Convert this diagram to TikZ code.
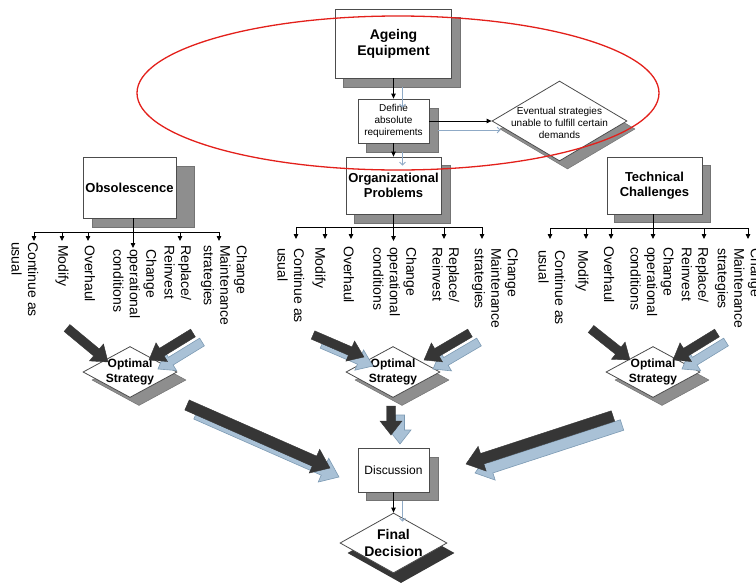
\documentclass[tikz,border=0pt]{standalone}
\usepackage{fontspec}
\setmainfont{Liberation Sans}
\usetikzlibrary{arrows.meta,shapes.geometric,calc}

\definecolor{fatdark}{HTML}{363636}
\definecolor{fatblue}{HTML}{A9C1D6}
\definecolor{fatblueedge}{HTML}{7C9AB3}
\definecolor{linkblue}{HTML}{8FAAC6}
\definecolor{shade}{HTML}{8E8E8E}
\definecolor{ring}{HTML}{E3201B}

\tikzset{
  box/.style={draw=black!70, fill=white, line width=0.8pt, align=center, inner sep=0pt},
  boxshadow/.style={fill=shade, draw=black!55, line width=0.5pt},
  dia/.style={diamond, draw=black!70, fill=white, line width=0.8pt, inner sep=0pt},
  diashadow/.style={diamond, fill=shade, draw=black!55, line width=0.5pt, inner sep=0pt},
  optdia/.style={dia, minimum width=94pt, minimum height=51pt},
  optshadow/.style={diashadow, minimum width=94pt, minimum height=51pt},
  opttext/.style={align=center, inner sep=0pt, font=\bfseries\fontsize{12}{14.5}\selectfont},
  link/.style={draw=black, line width=0.8pt, -{Triangle[length=5pt,width=4.5pt]}},
  bus/.style={draw=black, line width=0.8pt},
  linkshadow/.style={draw=linkblue, line width=0.8pt, -{Straight Barb[length=3pt,width=6pt]}},
  choice/.style={rotate=-90, anchor=west, align=left, inner sep=0pt,
    font=\fontsize{14}{16.5}\selectfont},
  fatbody/.style={fill=fatdark, draw=fatdark, line width=0.4pt, line join=miter},
  fatshadow/.style={fill=fatblue, draw=fatblueedge, line width=0.6pt, line join=miter},
}

% broad block arrow from #2 to tip #3: shaft half-width #4, head half-width #5, head length #6
\newcommand\fatpoly[6]{%
  \coordinate (fahead) at ($(#3)!#6!(#2)$);
  \path[#1] ($(#2)!#4!90:(#3)$) -- ($(fahead)!#4!90:(#3)$) -- ($(fahead)!#5!90:(#3)$)
    -- (#3) -- ($(fahead)!#5!-90:(#3)$) -- ($(fahead)!#4!-90:(#3)$)
    -- ($(#2)!#4!-90:(#3)$) -- cycle;
}
% block arrow with its pale blue shadow copy behind it
\newcommand\fatpair[5]{%
  \coordinate (fabs) at ($(#1)+(9,9)$);
  \coordinate (fabt) at ($(#2)+(9,9)$);
  \fatpoly{fatshadow}{fabs}{fabt}{#3}{#4}{#5}
  \fatpoly{fatbody}{#1}{#2}{#3}{#4}{#5}
}
\newcommand\choice[4]{\node[choice] (#1) at (#2,#3) {#4};}

\begin{document}
\begin{tikzpicture}[x=1pt,y=-1pt]
\useasboundingbox (0,0) rectangle (756,582);
\clip (0,0) rectangle (756,582);

% ---- box shadows ----
\path[boxshadow] (343,17) rectangle (460,87);
\path[boxshadow] (366,108) rectangle (438,152);
\path[boxshadow] (354,165) rectangle (450,223);
\path[boxshadow] (92,166) rectangle (194,227);
\path[boxshadow] (614,165) rectangle (710,222);
\path[boxshadow] (366,457) rectangle (438,500);

% ---- top part ----
\node[box, minimum width=116pt, minimum height=69pt,
      font=\bfseries\fontsize{14}{16}\selectfont] (ageing) at (393.5,43.5) {Ageing\\Equipment};
\node[box, minimum width=71pt, minimum height=44pt,
      font=\fontsize{10}{12}\selectfont] (define) at (393.5,121) {Define\\absolute\\requirements};
\node[diashadow, minimum width=135pt, minimum height=80pt] (evtshadow) at (567.5,129) {};
\node[dia, minimum width=135pt, minimum height=80pt] (evt) at (559.5,121) {};
\node[align=center, inner sep=0pt, font=\fontsize{10}{12}\selectfont] (evttext) at (559.5,123)
  {Eventual strategies\\unable to fulfill certain\\demands};

% ---- three problem boxes ----
\node[box, minimum width=93pt, minimum height=61pt,
      font=\bfseries\fontsize{13}{15.5}\selectfont] (obs) at (129.5,187.5) {Obsolescence};
\node[box, minimum width=95pt, minimum height=57pt,
      font=\bfseries\fontsize{13}{15.5}\selectfont] (org) at (393.5,185.5) {Organizational\\Problems};
\node[box, minimum width=95pt, minimum height=57pt,
      font=\bfseries\fontsize{13}{15.5}\selectfont] (tech) at (654.5,185.5) {Technical\\Challenges};

% ---- thin connectors and their shadows ----
\draw[link] (ageing.south) -- (define.north);
\draw[link] (define.south) -- (org.north);
\draw[link] (define.east) -- (evt.west);
\draw[linkshadow] ([shift={(9,9)}]ageing.south) -- ([shift={(9,9)}]define.north);
\draw[linkshadow] ([shift={(9,9)}]define.south) -- ([shift={(9,9)}]org.north);
\draw[linkshadow] ([shift={(9,9)}]define.east) -- ([shift={(9,9)}]evt.west);

% ---- option trees ----
\coordinate (obsdrop) at (133,248);
\draw[bus] (34,232) -- (219,232);
\draw[link] (obs.south -| obsdrop) -- (obsdrop);
\foreach \x in {34,62,88,180,219} \draw[link] (\x,232) -- (\x,241);

\coordinate (orgdrop) at (393.5,241);
\draw[bus] (296,227) -- (482,227);
\draw[link] (org.south) -- (orgdrop);
\foreach \x in {296,325,351,444,482} \draw[link] (\x,227) -- (\x,239);

\coordinate (techdrop) at (653,239);
\draw[bus] (550,228) -- (748,228);
\draw[link] (tech.south -| techdrop) -- (techdrop);
\foreach \x in {550,586,611,704,748} \draw[link] (\x,228) -- (\x,239);

\choice{obsA}{25}{242}{Continue as\\usual}
\choice{obsB}{62}{245}{Modify}
\choice{obsC}{90}{245}{Overhaul}
\choice{obsD}{135}{249}{Change\\operational\\conditions}
\choice{obsE}{178}{245}{Replace/\\Reinvest}
\choice{obsF}{224}{245}{Change\\Maintenance\\strategies}

\choice{orgA}{291}{248}{Continue as\\usual}
\choice{orgB}{319}{247}{Modify}
\choice{orgC}{349}{246}{Overhaul}
\choice{orgD}{395}{247}{Change\\operational\\conditions}
\choice{orgE}{446}{247}{Replace/\\Reinvest}
\choice{orgF}{495}{248}{Change\\Maintenance\\strategies}

\choice{techA}{552}{250}{Continue as\\usual}
\choice{techB}{582}{250}{Modify}
\choice{techC}{609}{246}{Overhaul}
\choice{techD}{652}{247}{Change\\operational\\conditions}
\choice{techE}{695}{247}{Replace/\\Reinvest}
\choice{techF}{738}{248}{Change\\Maintenance\\strategies}

% ---- optimal strategy diamonds ----
\node[optshadow] (opt1s) at (139,380) {};
\node[optshadow] (opt2s) at (402,380) {};
\node[optshadow] (opt3s) at (662,380) {};
\node[optdia] (opt1) at (130,372) {};
\node[optdia] (opt2) at (393,372) {};
\node[optdia] (opt3) at (653,372) {};
\node[opttext] at (opt1) {Optimal\\Strategy};
\node[opttext] at (opt2) {Optimal\\Strategy};
\node[opttext] at (opt3) {Optimal\\Strategy};

% ---- discussion and final decision ----
\node[box, minimum width=71pt, minimum height=44pt,
      font=\fontsize{12}{14}\selectfont] (disc) at (393.5,470) {Discussion};
\node[diamond, fill=fatdark, inner sep=0pt, minimum width=107pt, minimum height=60pt]
  (finals) at (401,553) {};
\node[dia, minimum width=107pt, minimum height=60pt] (final) at (393.5,543) {};
\node[align=center, inner sep=0pt, font=\bfseries\fontsize{14}{17}\selectfont] at (final) {Final\\Decision};
\draw[link] (disc.south) -- (final.north);
\draw[linkshadow] ([shift={(9,9)}]disc.south) -- ([shift={(9,9)}]final.north);

% ---- block arrows ----
\coordinate (a1s) at (67,328);   \coordinate (a1t) at (108,362);
\coordinate (a2s) at (193,333);  \coordinate (a2t) at (149,360);
\coordinate (a3s) at (313,335);  \coordinate (a3t) at (364,357);
\coordinate (a4s) at (470,333);  \coordinate (a4t) at (424,360);
\coordinate (a5s) at (591,329);  \coordinate (a5t) at (630,360);
\coordinate (a6s) at (717,333);  \coordinate (a6t) at (673,360);
\coordinate (a7s) at (391,406);  \coordinate (a7t) at (391,435);
\coordinate (a8s) at (187,405);  \coordinate (a8t) at (330,468);
\coordinate (a9s) at (613,416);  \coordinate (a9t) at (466,464);

\fatpoly{fatbody}{a1s}{a1t}{4.5pt}{11pt}{15pt}
\fatpair{a2s}{a2t}{4.5pt}{11pt}{15pt}
\fatpair{a3s}{a3t}{4.5pt}{11pt}{15pt}
\fatpair{a4s}{a4t}{4.5pt}{11pt}{15pt}
\fatpoly{fatbody}{a5s}{a5t}{4.5pt}{11pt}{15pt}
\fatpair{a6s}{a6t}{4.5pt}{11pt}{15pt}
\fatpair{a7s}{a7t}{4.5pt}{11pt}{14pt}
\fatpair{a8s}{a8t}{5.5pt}{13pt}{17pt}
\fatpair{a9s}{a9t}{5.5pt}{13pt}{17pt}

% ---- highlight ring ----
\draw[ring, line width=1.3pt] (398,93) ellipse [x radius=261, y radius=77];
\end{tikzpicture}
\end{document}
